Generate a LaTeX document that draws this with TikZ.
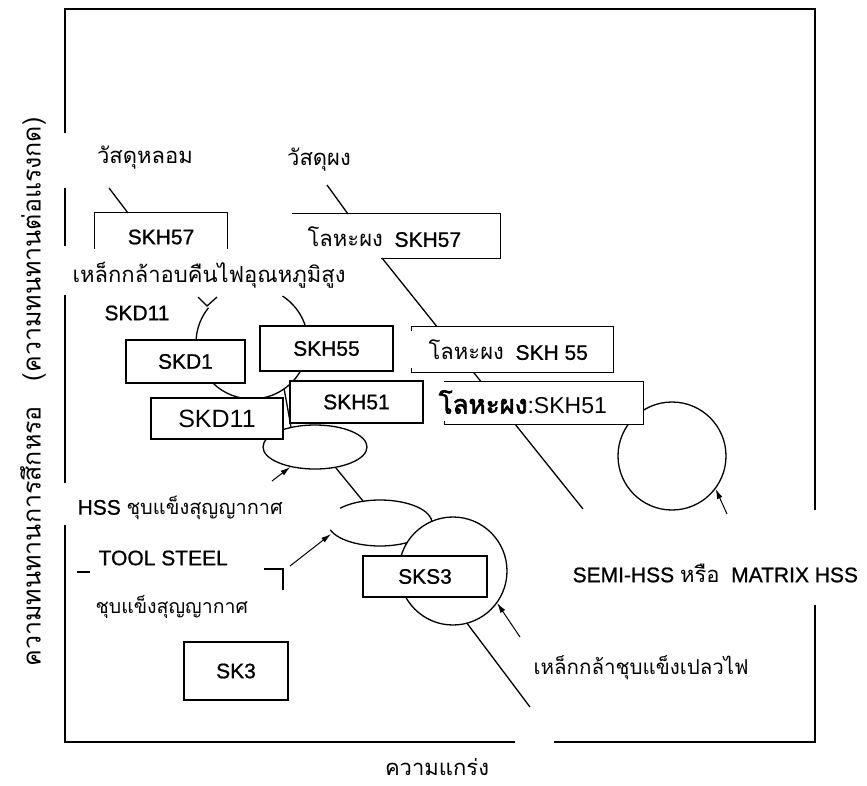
\documentclass[tikz,border=0pt]{standalone}
\usepackage{fontspec}
\setmainfont{Liberation Sans}
\newfontfamily\medsans[FakeBold=0.9]{Liberation Sans}
\newfontfamily\thai[Script=Thai]{Loma}
\newfontfamily\thaiheavy[Script=Thai,FakeBold=2.5]{Loma}
\usetikzlibrary{arrows.meta,shapes.geometric}

\begin{document}
\begin{tikzpicture}[x=1pt, y=-1pt,
 line width=1.3pt,
 matbox/.style={draw, fill=white, inner sep=0pt, font=\fontsize{21}{23}\selectfont\medsans},
 openbox/.style={inner sep=0pt, font=\fontsize{21}{23}\selectfont\medsans},
 lbl/.style={inner sep=0pt, font=\fontsize{21}{23}\selectfont\medsans},
 thlbl/.style={inner sep=0pt, font=\fontsize{22}{24}\selectfont\thai},
 arr/.style={-{Latex[length=3.5mm,width=2mm]}, line width=1pt}
]
\useasboundingbox (0,0) rectangle (867,785);

% frame
\draw (65,133) -- (65,9) -- (815,9) -- (815,510);
\draw (65,188) -- (65,246);
\draw (65,295) -- (65,483);
\draw (65,525) -- (65,742) -- (515,742);
\draw (554,742) -- (815,742) -- (815,605);

% leader lines
\coordinate (castfoot) at (109,188);
\coordinate (powderfoot) at (327,185);
\coordinate (powderend) at (583,509);
\draw (castfoot) -- (128,213);
\draw (powderfoot) -- (348,214);
\draw (382,258) -- (powderend);

% hot work circle with a gap at top
\coordinate (hotc) at (252,343);
\draw (hotc) ++(141:56pt) arc[start angle=141, end angle=417, radius=56pt];
\draw (198,297) -- (207,306) -- (217,297);

% vacuum hardened ellipses
\node[draw, ellipse, minimum width=104pt, minimum height=44pt, inner sep=0pt] (vacA) at (315,447) {};
\draw (hotc) ++(-55:56pt) -- (vacA.140);
\coordinate (vacB) at (380,523);
\coordinate (vacBtop) at (363,501);
\draw (vacB) ++(197:52pt and 23pt) arc[start angle=197, end angle=500, x radius=52pt, y radius=23pt];
\draw (vacA.-45) -- (vacBtop);

% matrix HSS circle
\node[draw, circle, minimum size=108pt, inner sep=0pt] (matrixc) at (672,456) {};

% flame hardened circle
\coordinate (flameend) at (530,707);
\draw (453,571) ++(-75:54pt) -- (flameend);
\node[draw, circle, fill=white, minimum size=108pt, inner sep=0pt] (flamec) at (453,571) {};

% boxes
\node[openbox, minimum width=132pt, minimum height=48pt] (cast57) at (161,237) {SKH57};
\draw ([yshift=13pt]cast57.south west) |- (cast57.north east) -- ([yshift=13pt]cast57.south east);

\node[openbox, minimum width=207pt, minimum height=44pt] (pm57) at (396.5,236) {};
\draw (pm57.north west) -- (pm57.north east) -- (pm57.south east) -- ([xshift=89pt]pm57.south west);

\node[openbox, fill=white, minimum width=201pt, minimum height=45pt] (pm55) at (512.5,349.5) {};
\draw ([yshift=-5pt]pm55.north west) -- (pm55.north west) -- (pm55.north east)
  -- (pm55.south east) -- (pm55.south west) -- ([yshift=5pt]pm55.south west);

\node[openbox, fill=white, minimum width=198pt, minimum height=42pt] (pm51) at (544,403) {};
\draw ([yshift=4pt]pm51.south west) -- (pm51.south west) -- (pm51.south east)
  -- (pm51.north east) -- (pm51.north west);

\node[matbox, minimum width=119pt, minimum height=43pt] (skd1) at (185.5,361.5) {SKD1};
\node[matbox, minimum width=133pt, minimum height=45pt] (skh55) at (326.5,348.5) {SKH55};
\node[matbox, minimum width=132pt, minimum height=41pt, font=\fontsize{25}{27}\selectfont\rmfamily] (skd11) at (217,418.5) {SKD11};
\node[matbox, minimum width=133pt, minimum height=42pt] (skh51) at (356.5,402) {SKH51};
\node[matbox, minimum width=124pt, minimum height=41pt] (sks3) at (425,576.5) {SKS3};
\node[matbox, minimum width=104pt, minimum height=58pt] (sk3) at (236,671) {SK3};

% pointer arrows
\coordinate (vacAtail) at (272,481);
\coordinate (vacBtail) at (290,566);
\coordinate (vacBtip) at (331,534);
\coordinate (flametail) at (520,637);
\coordinate (matrixtail) at (727,514);
\draw[arr] (vacAtail) -- (vacA.-141);
\draw[arr] (vacBtail) -- (vacBtip);
\draw[arr] (flametail) -- (flamec.-36);
\draw[arr] (matrixtail) -- (matrixc.-37);

% tool steel bracket
\draw (77,572) -- (90,572);
\draw (264,569) -- (283,569) -- (283,590);

% labels
\node[thlbl] (castlbl) at (145,158) {วัสดุหลอม};
\node[thlbl] (powderlbl) at (319,160) {วัสดุผง};
\node[thlbl, anchor=west] (hotlbl) at (72,275) {เหล็กกล้าอบคืนไฟอุณหภูมิสูง};
\node[lbl] (skd11lbl) at (137,313) {SKD11};
\node[lbl, anchor=west] (pm57lbl) at (307,237) {{\fontsize{22}{24}\selectfont\thai โลหะผง}\ \ SKH57};
\node[lbl, anchor=west] (pm55lbl) at (428,350) {{\fontsize{22}{24}\selectfont\thai โลหะผง}\ \ SKH 55};
\node[lbl, anchor=west, font=\fontsize{23}{25}\selectfont\rmfamily] (pm51lbl) at (438,402) {{\fontsize{26}{28}\selectfont\thaiheavy โลหะผง}:SKH51};
\node[lbl, anchor=west] (hsslbl) at (77,508) {HSS {\fontsize{20}{22}\selectfont\thai ชุบแข็งสุญญากาศ}};
\node[lbl, anchor=west] (toollbl) at (98,558) {TOOL STEEL};
\node[thlbl, anchor=west, font=\fontsize{19.5}{21}\selectfont\thai] (vaclbl) at (95,607) {ชุบแข็งสุญญากาศ};
\node[lbl, anchor=west] (matrixlbl) at (572,573) {SEMI-HSS {\fontsize{22}{24}\selectfont\thai หรือ}\ \ MATRIX HSS};
\node[thlbl, anchor=west, font=\fontsize{20.5}{22}\selectfont\thai] (flamelbl) at (533,668) {เหล็กกล้าชุบแข็งเปลวไฟ};
\node[thlbl] (xlbl) at (437,767) {ความแกร่ง};
\node[thlbl, rotate=90, font=\fontsize{25}{27}\selectfont\thai] (ylbl) at (33,392) {ความทนทานการสึกหรอ\quad(ความทนทานต่อแรงกด)};
\end{tikzpicture}
\end{document}
